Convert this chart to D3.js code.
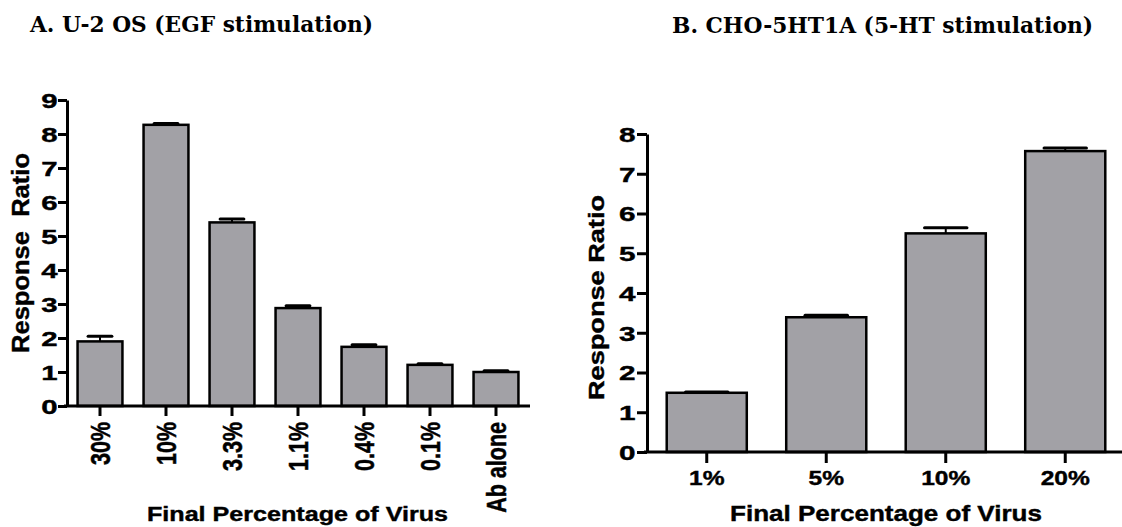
<!DOCTYPE html>
<html>
<head>
<meta charset="utf-8">
<script src="https://cdnjs.cloudflare.com/ajax/libs/d3/7.8.5/d3.min.js"></script>
<style>
	body { margin: 0; background: #fff; }
	text { font-family: "Liberation Sans", Arial, sans-serif; font-weight: bold; fill: #000; }
	.title { font-family: "DejaVu Serif", "Liberation Serif", serif; }
</style>
</head>
<body>
<div id="chart"></div>
<script>
var w = 1122,
	h = 527;

// panel A
var catsA = ["30%", "10%", "3.3%", "1.1%", "0.4%", "0.1%", "Ab alone"];
var valsA = [1.9, 8.27, 5.4, 2.88, 1.74, 1.21, 1.0];
var errA = [0.15, 0.04, 0.1, 0.07, 0.06, 0.03, 0.04];
var ticksA = [0, 1, 2, 3, 4, 5, 6, 7, 8, 9];

// panel B
var catsB = ["1%", "5%", "10%", "20%"];
var valsB = [1.49, 3.39, 5.5, 7.57];
var errB = [0.02, 0.05, 0.14, 0.08];
var ticksB = [0, 1, 2, 3, 4, 5, 6, 7, 8];

var titleA = "A. U-2 OS (EGF stimulation)";
var titleB = "B. CHO-5HT1A (5-HT stimulation)";
var xTitle = "Final Percentage of Virus";
var yTitleA = "Response  Ratio";
var yTitleB = "Response Ratio";

var root = d3.select("#chart").append("svg").attr("width", w).attr("height", h);

var xA = d3.scaleBand().domain(catsA).range([67, 529]).paddingInner(0.32).paddingOuter(0.16);
var yA = d3.scaleLinear().domain([0, 9]).range([406, 100]);
var xB = d3.scaleBand().domain(catsB).range([647, 1125]).paddingInner(0.33).paddingOuter(0.165);
var yB = d3.scaleLinear().domain([0, 8]).range([452, 134]);

function drawBars(x, y, cats, vals, errs) {
	var g = root.append("g");
	var bw = x.bandwidth();
	cats.forEach(function(c, i) {
		var cx = x(c) + bw / 2;
		// error bar (upper half only)
		g.append("line").attr("x1", cx).attr("x2", cx)
			.attr("y1", y(vals[i])).attr("y2", y(vals[i] + errs[i]))
			.style("stroke", "#000").style("stroke-width", 2);
		g.append("line").attr("x1", cx - bw * 0.265).attr("x2", cx + bw * 0.265)
			.attr("y1", y(vals[i] + errs[i])).attr("y2", y(vals[i] + errs[i]))
			.style("stroke", "#000").style("stroke-width", 3).style("stroke-linecap", "round");
		g.append("rect").attr("x", x(c)).attr("y", y(vals[i]))
			.attr("width", bw).attr("height", y(0) - y(vals[i]))
			.style("fill", "#a2a1a6").style("stroke", "#000").style("stroke-width", 2.5);
	});
}

function styleAxis(g) {
	g.select(".domain").style("stroke", "#000").style("stroke-width", 3);
	g.selectAll(".tick line").style("stroke", "#000").style("stroke-width", 3);
	g.selectAll("text").attr("fill", "#000");
}

drawBars(xA, yA, catsA, valsA, errA);
drawBars(xB, yB, catsB, valsB, errB);

// A axes
var gyA = root.append("g").attr("transform", "translate(67,0)")
	.call(d3.axisLeft(yA).tickValues(ticksA).tickFormat(d3.format("d")).tickSize(9).tickSizeOuter(0));
styleAxis(gyA);
gyA.selectAll("text").style("font-size", "21px").style("stroke", "#000").style("stroke-width", 0.4)
	.attr("x", -9.5 / 1.4).attr("dy", "0.36em").attr("transform", "scale(1.4,1)");

var gxA = root.append("g").attr("transform", "translate(0,406)")
	.call(d3.axisBottom(xA).tickSize(10).tickSizeOuter(0));
styleAxis(gxA);
gxA.select(".domain").attr("d", "M64,0H530");
gxA.selectAll("text").style("font-size", "21.5px").style("stroke", "#000").style("stroke-width", 0.4)
	.attr("y", 0).attr("x", -16).attr("dy", "0.36em")
	.attr("text-anchor", "end").attr("transform", "scale(1.25,1) rotate(-90)");

// B axes
var gyB = root.append("g").attr("transform", "translate(647,0)")
	.call(d3.axisLeft(yB).tickValues(ticksB).tickFormat(d3.format("d")).tickSize(10).tickSizeOuter(0));
styleAxis(gyB);
gyB.selectAll("text").style("font-size", "20.5px").style("stroke", "#000").style("stroke-width", 0.4)
	.attr("x", -11.5 / 1.45).attr("dy", "0.36em").attr("transform", "scale(1.45,1)");

var gxB = root.append("g").attr("transform", "translate(0,452)")
	.call(d3.axisBottom(xB).tickSize(11).tickSizeOuter(0));
styleAxis(gxB);
gxB.select(".domain").attr("d", "M644,0H1122");
gxB.selectAll("text").style("font-size", "19.5px").style("stroke", "#000").style("stroke-width", 0.4)
	.attr("y", 33.5).attr("dy", 0).attr("transform", "scale(1.26,1)");

// titles
root.append("text").attr("class", "title").attr("x", 30).attr("y", 32)
	.attr("textLength", 343).attr("lengthAdjust", "spacingAndGlyphs")
	.style("font-size", "21.5px").text(titleA);
root.append("text").attr("class", "title").attr("x", 672).attr("y", 33)
	.attr("textLength", 421).attr("lengthAdjust", "spacingAndGlyphs")
	.style("font-size", "21.5px").text(titleB);

root.append("text").attr("x", 147).attr("y", 521)
	.attr("textLength", 301).attr("lengthAdjust", "spacingAndGlyphs")
	.style("font-size", "20px").style("stroke", "#000").style("stroke-width", 0.4).text(xTitle);
root.append("text").attr("x", 730).attr("y", 521)
	.attr("textLength", 312).attr("lengthAdjust", "spacingAndGlyphs")
	.style("font-size", "21.5px").style("stroke", "#000").style("stroke-width", 0.4).text(xTitle);

root.append("text").attr("transform", "translate(29,253) rotate(-90)")
	.attr("text-anchor", "middle").attr("textLength", 200).attr("lengthAdjust", "spacingAndGlyphs")
	.style("font-size", "23.5px").style("stroke", "#000").style("stroke-width", 0.4)
	.style("white-space", "pre").text(yTitleA);
root.append("text").attr("transform", "translate(604,297.5) rotate(-90)")
	.attr("text-anchor", "middle").attr("textLength", 205).attr("lengthAdjust", "spacingAndGlyphs")
	.style("font-size", "22px").style("stroke", "#000").style("stroke-width", 0.4).text(yTitleB);
</script>
</body>
</html>
